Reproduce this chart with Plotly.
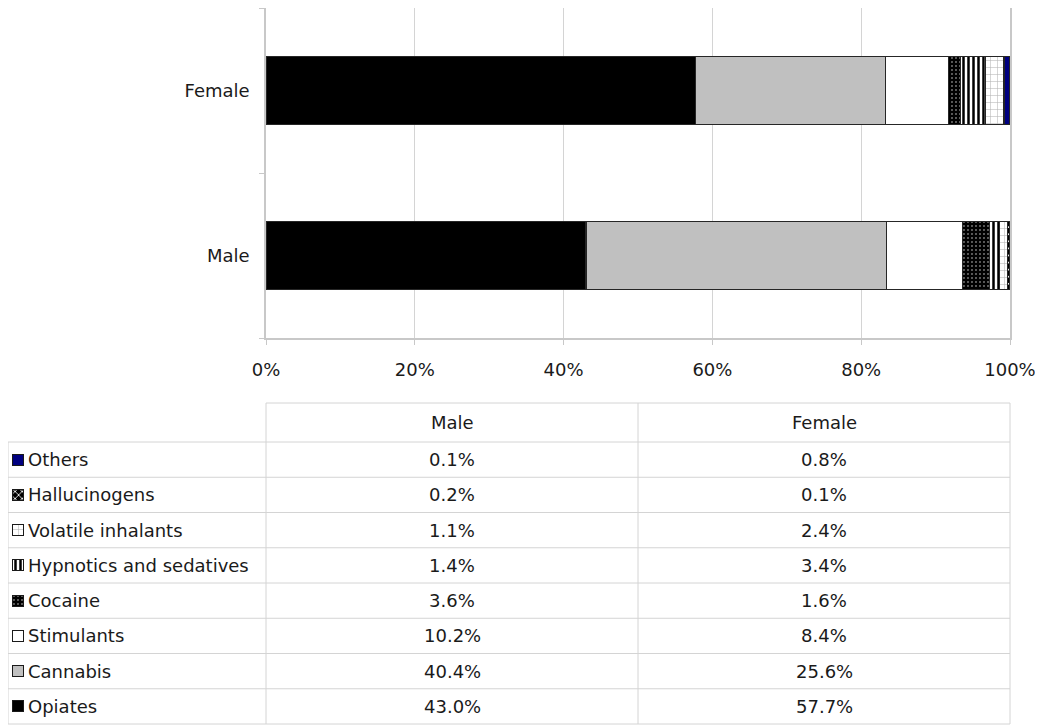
import plotly.graph_objects as go

# ---- data ----
groups = ["Male", "Female"]
substances = ["Opiates", "Cannabis", "Stimulants", "Cocaine",
              "Hypnotics and sedatives", "Volatile inhalants",
              "Hallucinogens", "Others"]
male = [43.0, 40.4, 10.2, 3.6, 1.4, 1.1, 0.2, 0.1]
female = [57.7, 25.6, 8.4, 1.6, 3.4, 2.4, 0.1, 0.8]
x_ticks = [0, 20, 40, 60, 80, 100]

# ---- styles ----
styles = {
    "Opiates": dict(color="#000000"),
    "Cannabis": dict(color="#c0c0c0"),
    "Stimulants": dict(color="#ffffff"),
    "Cocaine": dict(color="#000000",
                    pattern=dict(shape=".", fgcolor="#ffffff", bgcolor="#000000",
                                 size=4, solidity=0.08)),
    "Hypnotics and sedatives": dict(color="#ffffff",
                    pattern=dict(shape="|", fgcolor="#000000", bgcolor="#ffffff",
                                 size=5, solidity=0.5)),
    "Volatile inhalants": dict(color="#ffffff",
                    pattern=dict(shape="+", fgcolor="#b4b4b4", bgcolor="#ffffff",
                                 size=7, solidity=0.15)),
    "Hallucinogens": dict(color="#000000",
                    pattern=dict(shape="x", fgcolor="#ffffff", bgcolor="#000000",
                                 size=5, solidity=0.3)),
    "Others": dict(color="#000080"),
}

OFF = 8                      # page body margin
W, H = 1043 - OFF, 725 - OFF
FONT = dict(family="DejaVu Sans", size=18, color="#1a1a1a")
GRID = "#d4d4d4"
AX = "#c8c8c8"


def xp(px):
    return min(1.0, max(0.0, (px - OFF) / W))


def yp(py):
    return min(1.0, max(0.0, 1 - (py - OFF) / H))


fig = go.Figure()

for i, s in enumerate(substances):
    st = styles[s]
    marker = dict(color=st["color"], line=dict(color="#262626", width=1.3))
    if "pattern" in st:
        marker["pattern"] = st["pattern"]
    fig.add_trace(go.Bar(
        y=groups, x=[male[i], female[i]], name=s, orientation="h",
        marker=marker, showlegend=False, hoverinfo="x+name",
        xaxis="x", yaxis="y",
    ))

# ---- table geometry ----
tab_left, col1, col2, tab_right = 8, 266, 638, 1010
head_top, rows_top, rows_bottom = 403, 442, 724
n_rows = len(substances)
row_h = (rows_bottom - rows_top) / n_rows

# swatches in the table (tiny bars on a pixel-scaled axis)
for s in substances:
    st = styles[s]
    marker = dict(color=st["color"], line=dict(color="#1a1a1a", width=1))
    if "pattern" in st:
        marker["pattern"] = st["pattern"]
    fig.add_trace(go.Bar(
        y=[s], x=[11], base=[12], orientation="h", width=0.31,
        marker=marker, showlegend=False, hoverinfo="skip",
        xaxis="x2", yaxis="y2",
    ))

shapes = []
line = dict(color=GRID, width=1)
shapes.append(dict(type="line", xref="paper", yref="paper",
                   x0=xp(col1), x1=xp(tab_right), y0=yp(head_top), y1=yp(head_top), line=line))
for k in range(n_rows + 1):
    yy = rows_top + k * row_h
    shapes.append(dict(type="line", xref="paper", yref="paper",
                       x0=xp(tab_left), x1=xp(tab_right), y0=yp(yy), y1=yp(yy), line=line))
shapes.append(dict(type="line", xref="paper", yref="paper",
                   x0=xp(tab_left), x1=xp(tab_left), y0=yp(rows_top), y1=yp(rows_bottom), line=line))
for xx in (col1, col2, tab_right):
    shapes.append(dict(type="line", xref="paper", yref="paper",
                       x0=xp(xx), x1=xp(xx), y0=yp(head_top), y1=yp(rows_bottom), line=line))

annotations = []
c2 = (col1 + col2) / 2
c3 = (col2 + tab_right) / 2
head_mid = yp((head_top + rows_top) / 2)
for txt, cx in ((groups[0], c2), (groups[1], c3)):
    annotations.append(dict(text=txt, x=xp(cx), y=head_mid, xref="paper", yref="paper",
                            showarrow=False, font=FONT, xanchor="center", yanchor="middle"))
for i, s in enumerate(substances):
    annotations.append(dict(text=s, x=xp(26), y=s, xref="paper", yref="y2",
                            showarrow=False, font=FONT, xanchor="left", yanchor="middle"))
    annotations.append(dict(text=f"{male[i]:.1f}%", x=xp(c2), y=s, xref="paper", yref="y2",
                            showarrow=False, font=FONT, xanchor="center", yanchor="middle"))
    annotations.append(dict(text=f"{female[i]:.1f}%", x=xp(c3), y=s, xref="paper", yref="y2",
                            showarrow=False, font=FONT, xanchor="center", yanchor="middle"))

fig.update_layout(
    template="none",
    width=W, height=H, autosize=False,
    margin=dict(l=0, r=0, t=0, b=0, pad=0, autoexpand=False),
    paper_bgcolor="white", plot_bgcolor="white",
    barmode="stack", bargap=0.59,
    font=FONT,
    xaxis=dict(domain=[xp(266), xp(1010)], range=[0, 100],
               tickvals=x_ticks, ticktext=[f"{v}%" for v in x_ticks],
               showgrid=True, gridcolor=GRID, gridwidth=1,
               showline=True, linecolor=AX, linewidth=1.5, mirror=True,
               ticks="outside", ticklen=5, tickcolor=AX, tickwidth=1,
               ticklabelstandoff=10, zeroline=False, anchor="y",
               automargin=False, tickfont=FONT),
    yaxis=dict(domain=[yp(338), yp(8)], type="category",
               categoryorder="array", categoryarray=groups,
               tickson="boundaries", ticks="outside", ticklen=5, tickcolor=AX, tickwidth=1,
               showline=True, linecolor=AX, linewidth=1.5, mirror=True,
               showgrid=False, zeroline=False, ticklabelstandoff=11, anchor="x",
               automargin=False, tickfont=FONT),
    xaxis2=dict(domain=[0, 1], range=[OFF, OFF + W], visible=False, anchor="y2",
                fixedrange=True, automargin=False),
    yaxis2=dict(domain=[yp(rows_bottom), yp(rows_top)], type="category",
                categoryorder="array", categoryarray=substances,
                range=[-0.5, n_rows - 0.5], visible=False, anchor="x2",
                fixedrange=True, automargin=False),
    shapes=shapes,
    annotations=annotations,
)

fig.write_html("out.html")
